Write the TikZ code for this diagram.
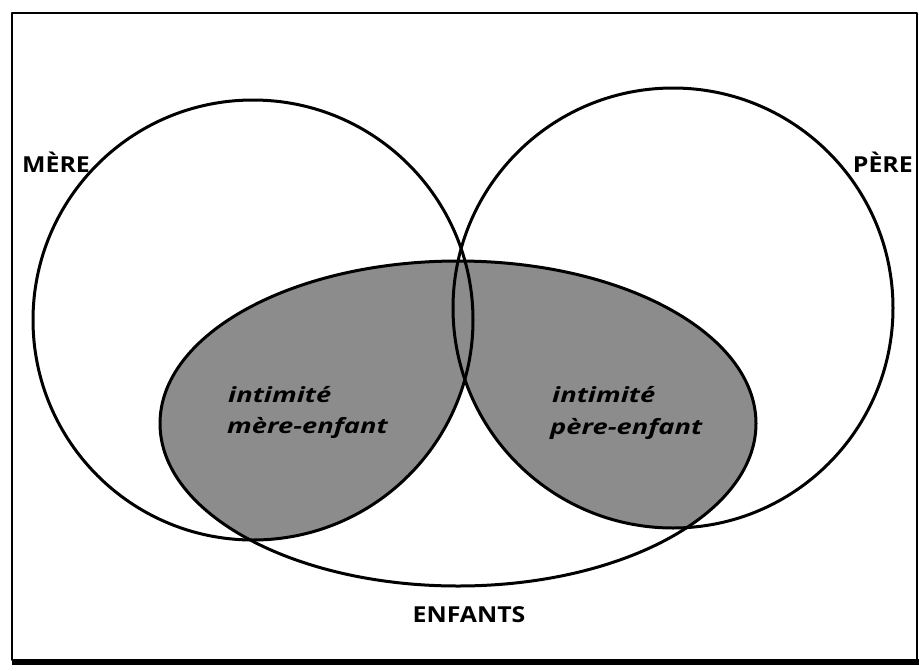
\documentclass[tikz,border=0pt]{standalone}
\usepackage{fontspec}
\usetikzlibrary{shapes.geometric}
\setmainfont{Open Sans}
\newfontfamily\lblfont[FakeStretch=1.13]{Open Sans}
\newfontfamily\itfont[FakeStretch=1.3]{Open Sans}
\begin{document}
\begin{tikzpicture}[x=1pt,y=-1pt,line join=round]
\tikzset{
  setline/.style={line width=3pt,draw=black},
  halftone/.style={fill=black!45},
  lbl/.style={font=\lblfont\fontsize{22}{26}\selectfont\bfseries,inner sep=0pt},
  intim/.style={font=\itfont\fontsize{21}{25}\selectfont\bfseries\itshape,inner sep=0pt,text=black}
}
\useasboundingbox (0,0) rectangle (919,670);
% frame
\draw[line width=1.8pt] (12,13) rectangle (917,660);
\draw[line width=6pt] (12,662) -- (919,662);
% shaded intersections
\begin{scope}
  \clip (458,423.5) ellipse [x radius=298, y radius=162.5];
  \fill[halftone] (253,320) circle[radius=220];
  \fill[halftone] (673,308) circle[radius=220];
\end{scope}
% outlines
\node[setline,circle,minimum size=440pt,inner sep=0pt] (mere) at (253,320) {};
\node[setline,circle,minimum size=440pt,inner sep=0pt] (pere) at (673,308) {};
\node[setline,ellipse,minimum width=596pt,minimum height=325pt,inner sep=0pt] (enf) at (458,423.5) {};
% labels
\node[lbl,anchor=base west] (lm) at (22,172) {MÈRE};
\node[lbl,anchor=base east] (lp) at (913,172) {PÈRE};
\node[lbl,anchor=base] (le) at (469,622) {ENFANTS};
\node[intim,anchor=base west] (im1) at (228,402) {intimité};
\node[intim,anchor=base west] (im2) at (227,433) {mère-enfant};
\node[intim,anchor=base west] (ip1) at (552,402) {intimité};
\node[intim,anchor=base west] (ip2) at (550,434) {père-enfant};
\end{tikzpicture}
\end{document}
